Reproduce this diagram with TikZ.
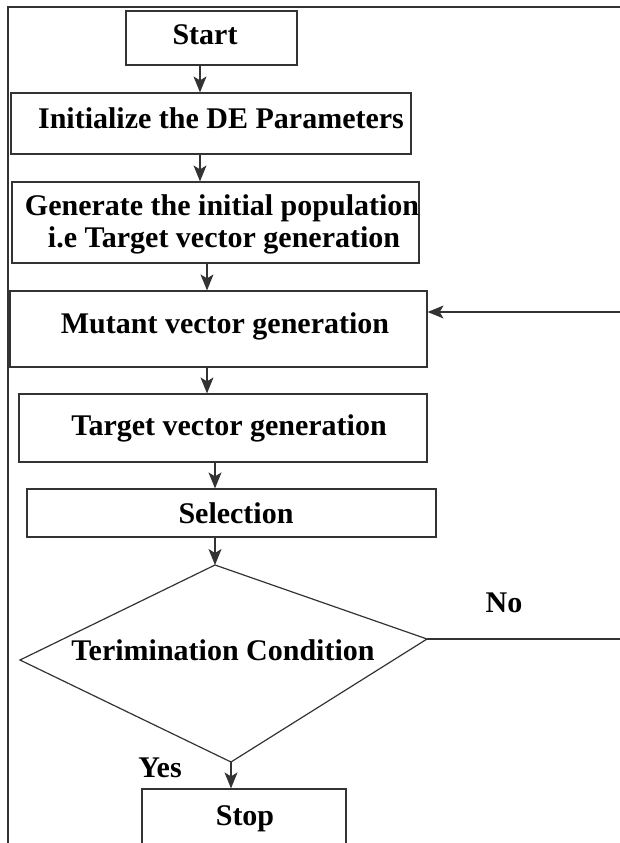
\documentclass[tikz,border=0pt]{standalone}
\usepackage{fontspec}
\setmainfont{Liberation Serif}
\usepackage{tikz}
\usetikzlibrary{calc, arrows.meta}
\definecolor{ink}{HTML}{333333}

\begin{document}
\begin{tikzpicture}[x=1pt, y=-1pt,
    every node/.style={font=\fontsize{30}{32}\selectfont\bfseries, align=center},
    box/.style={draw=ink, line width=1.2pt, inner sep=0pt},
    txt/.style={anchor=base, inner sep=0pt},
    arr/.style={ink, line width=1.2pt, -{Stealth[length=16pt, width=13pt, inset=4pt]}}]
    \clip (0,0) rectangle (620,843);

    % Frame
    \draw[ink, line width=1.2pt] (8,843) -- (8,7) -- (620,7);

    % Boxes
    \node[box, minimum width=171pt, minimum height=54pt] (start) at (211.5,38) {};
    \node[box, minimum width=400pt, minimum height=61pt] (init) at (211,123.5) {};
    \node[box, minimum width=407pt, minimum height=81pt] (gen) at (215.5,222.5) {};
    \node[box, minimum width=417pt, minimum height=76pt] (mutant) at (218.5,329) {};
    \node[box, minimum width=408pt, minimum height=68pt] (target) at (223,428) {};
    \node[box, minimum width=409pt, minimum height=48pt] (sel) at (231.5,513) {};
    \node[box, minimum width=204pt, minimum height=81pt] (stop) at (244,829.5) {};

    % Decision
    \coordinate (dtop) at (215,565);
    \coordinate (dleft) at (20,660);
    \coordinate (dright) at (427,639);
    \coordinate (dbot) at (231,762);
    \draw[ink, line width=1.2pt] (dtop) -- (dright) -- (dbot) -- (dleft) -- cycle;

    % Texts
    \node[txt] (tStart) at (205,45) {Start};
    \node[txt] (tInit) at (221,128) {Initialize the DE Parameters};
    \node[txt] (tGen1) at (222,215) {Generate the initial population};
    \node[txt] (tGen2) at (224,247) {i.e Target vector generation};
    \node[txt] (tMutant) at (225,333) {Mutant vector generation};
    \node[txt] (tTarget) at (229,435) {Target vector generation};
    \node[txt] (tSel) at (236,523) {Selection};
    \node[txt] (tCond) at (223,660) {Terimination Condition};
    \node[txt] (tNo) at (504,612) {No};
    \node[txt] (tYes) at (160,777) {Yes};
    \node[txt] (tStop) at (245,825) {Stop};

    % Connectors
    \draw[arr] ([xshift=-11.5pt]start.south) -- ([xshift=-11.5pt]start.south |- init.north);
    \draw[arr] ([xshift=-11pt]init.south) -- ([xshift=-11pt]init.south |- gen.north);
    \draw[arr] ([xshift=-8.5pt]gen.south) -- ([xshift=-8.5pt]gen.south |- mutant.north);
    \draw[arr] ([xshift=-11.5pt]mutant.south) -- ([xshift=-11.5pt]mutant.south |- target.north);
    \draw[arr] ([xshift=-8pt]target.south) -- ([xshift=-8pt]target.south |- sel.north);
    \draw[arr] (sel.south -| dtop) -- (dtop);
    \draw[arr] (dbot) -- (dbot |- stop.north);

    % Loop back (No)
    \coordinate (noEnd) at (620,639);
    \coordinate (backIn) at (620,312);
    \draw[ink, line width=1.2pt] (dright) -- (noEnd);
    \draw[arr] (backIn) -- (backIn -| mutant.east);
\end{tikzpicture}
\end{document}
